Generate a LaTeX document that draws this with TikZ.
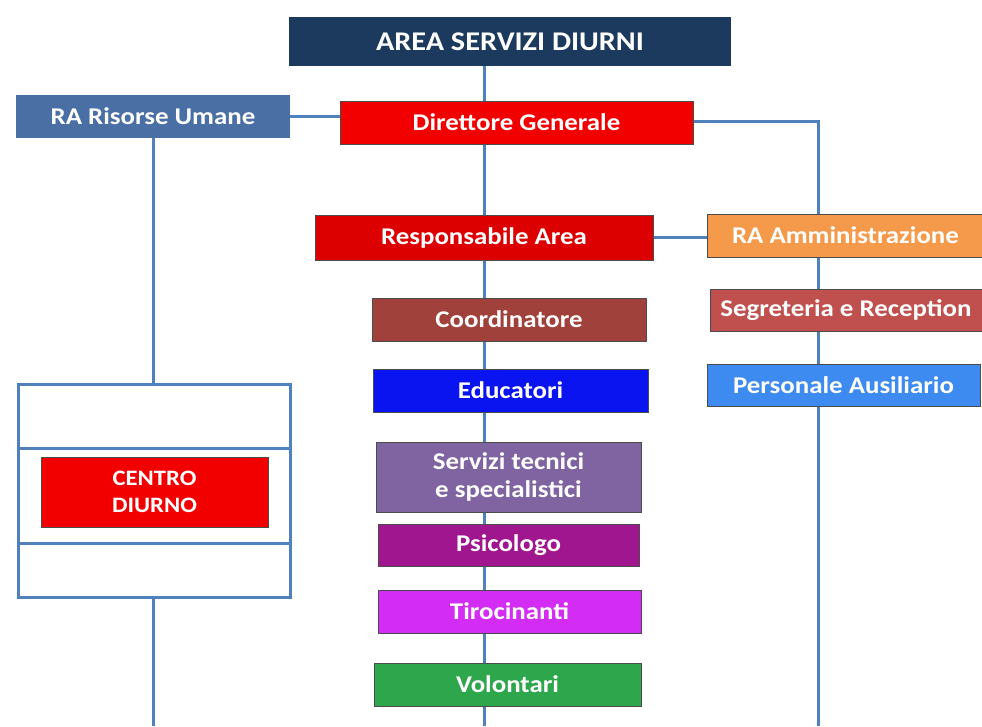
\documentclass[tikz,border=0pt]{standalone}
\usepackage{fontspec}
\setmainfont[FakeStretch=1.12]{Carlito}
\usetikzlibrary{backgrounds}
\definecolor{cnavy}{HTML}{1C3A5E}
\definecolor{crau}{HTML}{4A6FA5}
\definecolor{cdir}{HTML}{F20000}
\definecolor{cresp}{HTML}{DC0000}
\definecolor{cram}{HTML}{F59A4A}
\definecolor{cseg}{HTML}{C0504D}
\definecolor{cpers}{HTML}{3D8AF0}
\definecolor{ccoord}{HTML}{A0413C}
\definecolor{cedu}{HTML}{0A14F0}
\definecolor{cserv}{HTML}{8064A2}
\definecolor{cpsi}{HTML}{A0168F}
\definecolor{ctir}{HTML}{D22CF5}
\definecolor{cvol}{HTML}{2EA64C}
\definecolor{cline}{HTML}{4F81BD}
\tikzset{
  orgbox/.style={rectangle, inner sep=0pt, text=white, font=\fontsize{24}{28}\selectfont\bfseries, align=center, draw=black!70, line width=0.6pt},
  conn/.style={draw=cline, line width=3pt},
}
\begin{document}
\begin{tikzpicture}[x=1pt,y=-1pt]
\useasboundingbox (0,0) rectangle (982,726);
\node[orgbox, fill=cnavy, draw=none, minimum width=442pt, minimum height=49pt, font=\fontsize{27}{30}\selectfont\bfseries] (area) at (510,41.5) {AREA SERVIZI DIURNI};
\node[orgbox, fill=crau, draw=none, minimum width=274pt, minimum height=43pt] (rau) at (153,116.5) {RA Risorse Umane};
\node[orgbox, fill=cdir, minimum width=353pt, minimum height=43pt] (dir) at (516.5,122.5) {Direttore Generale};
\node[orgbox, fill=cresp, minimum width=338pt, minimum height=45pt] (resp) at (484,237.5) {Responsabile Area};
\node[orgbox, fill=cram, minimum width=277pt, minimum height=43pt] (ram) at (845.5,235.5) {RA Amministrazione};
\node[orgbox, fill=cseg, minimum width=272pt, minimum height=42pt] (seg) at (846,310) {Segreteria e Reception};
\node[orgbox, fill=cpers, minimum width=273pt, minimum height=42pt] (pers) at (843.5,385) {Personale Ausiliario};
\node[orgbox, fill=ccoord, minimum width=274pt, minimum height=43pt] (coord) at (509,319.5) {Coordinatore};
\node[orgbox, fill=cedu, minimum width=275pt, minimum height=43pt] (edu) at (510.5,390.5) {Educatori};
\node[orgbox, fill=cserv, minimum width=265pt, minimum height=70pt] (serv) at (508.5,477) {Servizi tecnici\\e specialistici};
\node[orgbox, fill=cpsi, minimum width=261pt, minimum height=42pt] (psi) at (508.5,545) {Psicologo};
\node[orgbox, fill=ctir, minimum width=263pt, minimum height=43pt] (tir) at (509.5,611.5) {Tirocinanti};
\node[orgbox, fill=cvol, minimum width=267pt, minimum height=43pt] (vol) at (507.5,684.5) {Volontari};
\node[rectangle, draw=cline, line width=3pt, minimum width=272pt, minimum height=213pt, inner sep=0pt] (frame) at (154,490.5) {};
\node[orgbox, fill=cdir, minimum width=227pt, minimum height=70pt, font=\fontsize{22}{27}\selectfont\bfseries] (cd) at (154.5,492) {CENTRO\\DIURNO};
\coordinate (cx) at (484,0);
\coordinate (lx) at (153,0);
\coordinate (rx) at (818,0);
\coordinate (endC) at (484,726);
\coordinate (endL) at (153,726);
\coordinate (endR) at (818,726);
\draw[conn] (frame.west |- 0,448) -- (frame.east |- 0,448);
\draw[conn] (frame.west |- 0,543) -- (frame.east |- 0,543);
\begin{scope}[on background layer]
\fill[white] (0,0) rectangle (982,726);
\draw[conn] (area.south -| cx) -- (dir.north -| cx);
\draw[conn] (dir.south -| cx) -- (resp.north);
\draw[conn] (resp.south) -- (coord.north -| cx);
\draw[conn] (coord.south -| cx) -- (edu.north -| cx);
\draw[conn] (edu.south -| cx) -- (serv.north -| cx);
\draw[conn] (serv.south -| cx) -- (psi.north -| cx);
\draw[conn] (psi.south -| cx) -- (tir.north -| cx);
\draw[conn] (tir.south -| cx) -- (vol.north -| cx);
\draw[conn] (vol.south -| cx) -- (endC);
\draw[conn] (rau.east) -- (rau.east -| dir.west);
\draw[conn] (rau.south) -- (frame.north -| lx);
\draw[conn] (frame.south -| lx) -- (endL);
\draw[conn] (dir.east |- 0,121) -| (ram.north -| rx);
\draw[conn] (resp.east |- 0,237) -- (ram.west |- 0,237);
\draw[conn] (ram.south -| rx) -- (seg.north -| rx);
\draw[conn] (seg.south -| rx) -- (pers.north -| rx);
\draw[conn] (pers.south -| rx) -- (endR);
\end{scope}
\end{tikzpicture}
\end{document}
